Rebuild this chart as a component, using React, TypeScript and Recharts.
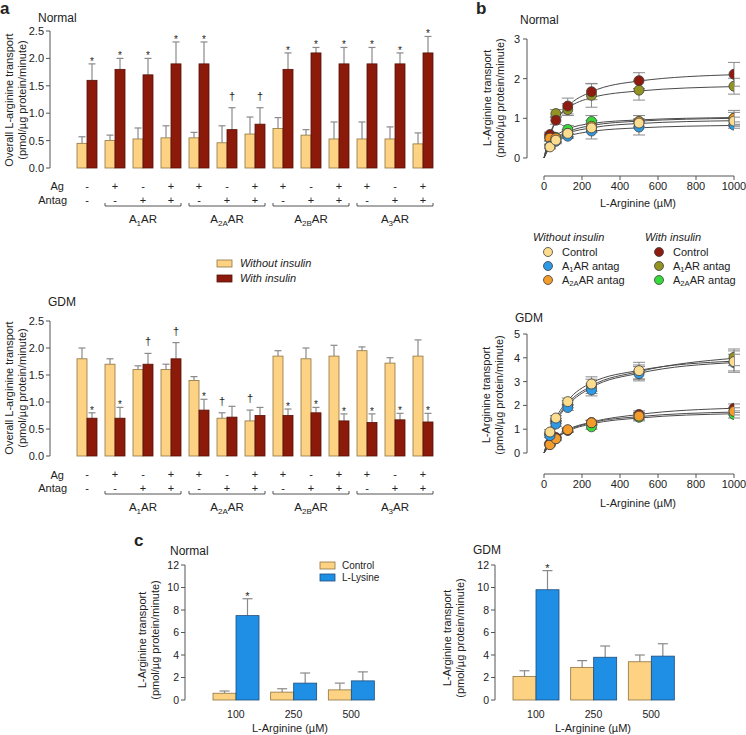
import React from "react";
import {
  BarChart,
  Bar,
  XAxis,
  YAxis,
  ComposedChart,
  Line,
  Scatter,
  ErrorBar,
  ReferenceLine,
} from "recharts";

const FONT = '"Liberation Sans", Arial, Helvetica, sans-serif';

// ---- panel a: agonist / antagonist conditions ----
const AG = ["-", "+", "-", "+", "+", "-", "+", "+", "-", "+", "+", "-", "+"];
const ANTAG = ["-", "-", "+", "+", "-", "+", "+", "-", "+", "+", "-", "+", "+"];
const RECEPTOR_SUBS = ["1", "2A", "2B", "3"];
const A_TICKS = [0, 0.5, 1, 1.5, 2, 2.5];

const normWithout = [0.45, 0.5, 0.53, 0.55, 0.55, 0.46, 0.62, 0.72, 0.6, 0.53, 0.53, 0.53, 0.44];
const normWithoutSe = [0.12, 0.1, 0.2, 0.22, 0.1, 0.31, 0.31, 0.2, 0.1, 0.31, 0.31, 0.22, 0.2];
const normWith = [1.6, 1.8, 1.7, 1.9, 1.9, 0.7, 0.8, 1.8, 2.1, 1.9, 1.9, 1.9, 2.1];
const normWithSe = [0.3, 0.2, 0.3, 0.4, 0.4, 0.4, 0.3, 0.3, 0.1, 0.3, 0.3, 0.2, 0.3];
const normWithoutMark = ["", "", "", "", "", "", "", "", "", "", "", "", ""];
const normWithMark = ["*", "*", "*", "*", "*", "†", "†", "*", "*", "*", "*", "*", "*"];

const gdmWithout = [1.8, 1.7, 1.6, 1.6, 1.4, 0.7, 0.65, 1.85, 1.8, 1.85, 1.95, 1.72, 1.85];
const gdmWithoutSe = [0.2, 0.1, 0.07, 0.1, 0.07, 0.1, 0.2, 0.1, 0.2, 0.2, 0.07, 0.1, 0.3];
const gdmWith = [0.7, 0.7, 1.7, 1.8, 0.85, 0.72, 0.75, 0.75, 0.8, 0.65, 0.62, 0.67, 0.63];
const gdmWithSe = [0.1, 0.2, 0.2, 0.3, 0.2, 0.2, 0.15, 0.12, 0.1, 0.13, 0.16, 0.12, 0.16];
const gdmWithoutMark = ["", "", "", "", "", "†", "†", "", "", "", "", "", ""];
const gdmWithMark = ["*", "*", "†", "†", "*", "", "", "*", "*", "*", "*", "*", "*"];

// ---- panel b: kinetics ----
const CONC = [31.25, 62.5, 125, 250, 500, 1000];
const FIT_CONC = [0, 31.25, 62.5, 125, 250, 500, 1000];
const B_X_TICKS = [0, 200, 400, 600, 800, 1000];

const nCtrl = [0.28, 0.45, 0.62, 0.76, 0.88, 0.93];
const nCtrlSe = [0.05, 0.06, 0.08, 0.1, 0.1, 0.1];
const nA1 = [0.3, 0.42, 0.55, 0.68, 0.78, 0.83];
const nA1Se = [0.05, 0.06, 0.06, 0.2, 0.2, 0.08];
const nA2A = [0.5, 0.5, 0.62, 0.8, 0.92, 1.0];
const nA2ASe = [0.08, 0.08, 0.1, 0.15, 0.15, 0.2];
const nInsCtrl = [0.59, 0.95, 1.31, 1.67, 1.95, 2.11];
const nInsCtrlSe = [0.06, 0.1, 0.2, 0.2, 0.2, 0.3];
const nInsA1 = [0.55, 1.12, 1.22, 1.58, 1.71, 1.81];
const nInsA1Se = [0.06, 0.1, 0.15, 0.3, 0.25, 0.2];
const nInsA2A = [0.5, 0.52, 0.72, 0.92, 0.92, 1.0];
const nInsA2ASe = [0.06, 0.06, 0.1, 0.15, 0.15, 0.15];

const nCtrlFit = [0, 0.3, 0.46, 0.62, 0.76, 0.87, 0.94];
const nA1Fit = [0, 0.28, 0.42, 0.55, 0.67, 0.76, 0.82];
const nA2AFit = [0, 0.36, 0.5, 0.66, 0.82, 0.93, 1.0];
const nInsCtrlFit = [0, 0.56, 0.92, 1.3, 1.67, 1.94, 2.1];
const nInsA1Fit = [0, 0.6, 0.95, 1.25, 1.52, 1.69, 1.8];
const nInsA2AFit = [0, 0.4, 0.56, 0.73, 0.87, 0.96, 1.02];

const gCtrl = [0.88, 1.47, 2.16, 2.9, 3.46, 3.84];
const gCtrlSe = [0.1, 0.1, 0.15, 0.3, 0.35, 0.45];
const gA1 = [0.73, 1.22, 1.91, 2.65, 3.33, 3.8];
const gA1Se = [0.08, 0.1, 0.12, 0.25, 0.3, 0.35];
const gA2A = [0.35, 0.6, 0.98, 1.27, 1.55, 1.75];
const gA2ASe = [0.05, 0.06, 0.08, 0.1, 0.15, 0.15];
const gInsCtrl = [0.4, 0.65, 0.96, 1.28, 1.62, 1.88];
const gInsCtrlSe = [0.05, 0.06, 0.08, 0.1, 0.15, 0.18];
const gInsA1 = [0.8, 1.35, 2.05, 2.8, 3.4, 4.02];
const gInsA1Se = [0.08, 0.1, 0.15, 0.3, 0.3, 0.35];
const gInsA2A = [0.36, 0.6, 0.95, 1.1, 1.5, 1.62];
const gInsA2ASe = [0.05, 0.06, 0.08, 0.1, 0.15, 0.15];

const gCtrlFit = [0, 0.82, 1.45, 2.2, 2.95, 3.47, 3.86];
const gA1Fit = [0, 0.72, 1.3, 2.0, 2.75, 3.35, 3.8];
const gA2AFit = [0, 0.36, 0.62, 0.95, 1.27, 1.53, 1.72];
const gInsCtrlFit = [0, 0.38, 0.65, 0.98, 1.3, 1.62, 1.88];
const gInsA1Fit = [0, 0.76, 1.36, 2.08, 2.82, 3.42, 3.98];
const gInsA2AFit = [0, 0.35, 0.6, 0.92, 1.22, 1.47, 1.65];

// ---- panel c: L-lysine ----
const C_CATS = ["100", "250", "500"];
const C_TICKS = [0, 2, 4, 6, 8, 10, 12];
const cNormCtrl = [0.6, 0.7, 0.9];
const cNormCtrlSe = [0.2, 0.3, 0.6];
const cNormLys = [7.5, 1.5, 1.7];
const cNormLysSe = [1.5, 0.9, 0.8];
const cNormMark = ["*", "", ""];
const cGdmCtrl = [2.1, 2.9, 3.4];
const cGdmCtrlSe = [0.5, 0.6, 0.6];
const cGdmLys = [9.8, 3.8, 3.9];
const cGdmLysSe = [1.7, 1.0, 1.1];
const cGdmMark = ["*", "", ""];

const LIGHT = "#fdd282";
const LIGHT_EDGE = "#8d7443";
const DARK = "#8c1a0b";
const DARK_EDGE = "#561006";
const BLUE = "#1f8fe5";
const BLUE_EDGE = "#1d4d7c";
const AXIS = "#555";
const ERR = "#8a8a8a";

const C_CTRL_W = "#fcdc8e";
const C_A1_W = "#2e9ae6";
const C_A2A_W = "#f39c2b";
const C_CTRL_I = "#8e1b10";
const C_A1_I = "#939322";
const C_A2A_I = "#39d83a";

function barWithError(valKey: string, seKey: string, markKey: string, edge: string, cap: number, markSize: number) {
  return (p: any) => {
    const { x, y, width, height, payload, fill } = p;
    const v = payload[valKey];
    const se = payload[seKey];
    const mark = payload[markKey];
    const cx = x + width / 2;
    const perUnit = v > 0 ? height / v : 0;
    const top = y - se * perUnit;
    return (
      <g>
        <line x1={cx} x2={cx} y1={y} y2={top} stroke={ERR} strokeWidth={1.2} />
        <line x1={cx - cap} x2={cx + cap} y1={top} y2={top} stroke={ERR} strokeWidth={1.2} />
        <rect x={x} y={y} width={width} height={height} fill={fill} stroke={edge} strokeWidth={0.8} />
        {mark ? (
          <text
            x={cx}
            y={mark === "*" ? top + 1 : top - 8}
            textAnchor="middle"
            fontSize={mark === "*" ? markSize : markSize + 1}
            fill="#222"
            fontFamily={FONT}
          >
            {mark}
          </text>
        ) : null}
      </g>
    );
  };
}

function receptor(sub: string, fs: number, tail = "AR") {
  return [
    "A",
    <tspan key="s" fontSize={fs * 0.7} dy={fs * 0.3}>
      {sub}
    </tspan>,
    <tspan key="t" dy={-fs * 0.3}>
      {tail}
    </tspan>,
  ];
}

function ConditionTick(p: any) {
  const { x, y, index } = p;
  const mid = index >= 2 && (index - 2) % 3 === 0;
  const g = (index - 2) / 3;
  return (
    <g fontFamily={FONT} fill="#222">
      <text x={x} y={y + 18} textAnchor="middle" dominantBaseline="central" fontSize={11}>
        {AG[index]}
      </text>
      <text x={x} y={y + 32} textAnchor="middle" dominantBaseline="central" fontSize={11}>
        {ANTAG[index]}
      </text>
      {mid ? (
        <path d={`M${x - 38},${y + 35} V${y + 38} H${x + 38} V${y + 35}`} fill="none" stroke={AXIS} strokeWidth={1} />
      ) : null}
      {mid ? (
        <text x={x} y={y + 55} textAnchor="middle" fontSize={11.5}>
          {receptor(RECEPTOR_SUBS[g], 11.5)}
        </text>
      ) : null}
    </g>
  );
}

function buildRows(wo: number[], woSe: number[], wi: number[], wiSe: number[], woMark: string[], wiMark: string[]) {
  return wo.map((v, i) => ({
    id: `c${i}`,
    wo: v,
    woSe: woSe[i],
    woMark: woMark[i],
    wi: wi[i],
    wiSe: wiSe[i],
    wiMark: wiMark[i],
  }));
}

const normalRows = buildRows(normWithout, normWithoutSe, normWith, normWithSe, normWithoutMark, normWithMark);
const gdmRows = buildRows(gdmWithout, gdmWithoutSe, gdmWith, gdmWithSe, gdmWithoutMark, gdmWithMark);

function TransportBars({ rows, height, top, xh }: { rows: any[]; height: number; top: number; xh: number }) {
  return (
    <BarChart width={445} height={height} data={rows} margin={{ top, right: 8, left: 0, bottom: 0 }} barGap={0} barSize={10}>
      <XAxis
        dataKey="id"
        axisLine={false}
        tickLine={false}
        tickSize={0}
        tickMargin={0}
        interval={0}
        height={xh}
        padding={{ left: 23, right: 0 }}
        tick={(p: any) => <ConditionTick {...p} />}
      />
      <YAxis
        width={50}
        domain={[0, 2.5]}
        ticks={A_TICKS}
        interval={0}
        tickFormatter={(v: number) => v.toFixed(1)}
        axisLine={{ stroke: AXIS }}
        tickLine={{ stroke: AXIS }}
        tickSize={4}
        tickMargin={2}
        tick={{ fill: "#222", fontSize: 11, fontFamily: FONT }}
      />
      <Bar dataKey="wo" fill={LIGHT} isAnimationActive={false} shape={barWithError("wo", "woSe", "woMark", LIGHT_EDGE, 3.5, 10)} />
      <Bar dataKey="wi" fill={DARK} isAnimationActive={false} shape={barWithError("wi", "wiSe", "wiMark", DARK_EDGE, 3.5, 10)} />
    </BarChart>
  );
}

function series(pts: number[], se: number[]) {
  return pts.map((y, i) => ({ x: CONC[i], y, e: se[i] }));
}
function fit(vals: number[]) {
  return vals.map((y, i) => ({ x: FIT_CONC[i], y }));
}

const dot = (color: string) => (p: any) =>
  <circle cx={p.cx} cy={p.cy} r={5} fill={color} stroke="#3d3d3d" strokeWidth={0.8} />;

type Kin = { color: string; pts: number[]; se: number[]; fit: number[] };

const normalKinetics: Kin[] = [
  { color: C_A2A_I, pts: nInsA2A, se: nInsA2ASe, fit: nInsA2AFit },
  { color: C_A1_I, pts: nInsA1, se: nInsA1Se, fit: nInsA1Fit },
  { color: C_CTRL_I, pts: nInsCtrl, se: nInsCtrlSe, fit: nInsCtrlFit },
  { color: C_A2A_W, pts: nA2A, se: nA2ASe, fit: nA2AFit },
  { color: C_A1_W, pts: nA1, se: nA1Se, fit: nA1Fit },
  { color: C_CTRL_W, pts: nCtrl, se: nCtrlSe, fit: nCtrlFit },
];

const gdmKinetics: Kin[] = [
  { color: C_A2A_I, pts: gInsA2A, se: gInsA2ASe, fit: gInsA2AFit },
  { color: C_CTRL_I, pts: gInsCtrl, se: gInsCtrlSe, fit: gInsCtrlFit },
  { color: C_A2A_W, pts: gA2A, se: gA2ASe, fit: gA2AFit },
  { color: C_A1_I, pts: gInsA1, se: gInsA1Se, fit: gInsA1Fit },
  { color: C_A1_W, pts: gA1, se: gA1Se, fit: gA1Fit },
  { color: C_CTRL_W, pts: gCtrl, se: gCtrlSe, fit: gCtrlFit },
];

function KineticsChart({ sets, height, top, xh, yMin, yMax, yTicks }: {
  sets: Kin[]; height: number; top: number; xh: number; yMin: number; yMax: number; yTicks: number[];
}) {
  const xMin = -89.5;
  return (
    <ComposedChart width={276} height={height} margin={{ top, right: 12, left: 0, bottom: 0 }}>
      <XAxis
        type="number"
        dataKey="x"
        domain={[xMin, 1000]}
        allowDataOverflow
        ticks={B_X_TICKS}
        interval={0}
        height={xh}
        axisLine={false}
        tickLine={{ stroke: AXIS }}
        tickSize={4}
        tickMargin={2}
        tick={{ fill: "#222", fontSize: 11, fontFamily: FONT }}
      />
      <YAxis
        type="number"
        width={57}
        domain={[yMin, yMax]}
        allowDataOverflow
        ticks={yTicks}
        interval={0}
        axisLine={false}
        tickLine={{ stroke: AXIS }}
        tickSize={4}
        tickMargin={3}
        tick={{ fill: "#222", fontSize: 11, fontFamily: FONT }}
      />
      <ReferenceLine segment={[{ x: xMin, y: 0 }, { x: xMin, y: yMax }]} stroke={AXIS} strokeWidth={1} />
      <ReferenceLine segment={[{ x: 0, y: yMin }, { x: 1000, y: yMin }]} stroke={AXIS} strokeWidth={1} />
      {sets.map((s, i) => (
        <Line
          key={`l${i}`}
          data={fit(s.fit)}
          dataKey="y"
          type="monotone"
          stroke="#4a4a4a"
          strokeWidth={1}
          dot={false}
          activeDot={false}
          isAnimationActive={false}
        />
      ))}
      {sets.map((s, i) => (
        <Scatter key={`s${i}`} data={series(s.pts, s.se)} dataKey="y" fill={s.color} shape={dot(s.color)} isAnimationActive={false}>
          <ErrorBar dataKey="e" direction="y" width={6} stroke={ERR} strokeWidth={1} isAnimationActive={false} />
        </Scatter>
      ))}
    </ComposedChart>
  );
}

function lysineRows(ctrl: number[], ctrlSe: number[], lys: number[], lysSe: number[], mark: string[]) {
  return C_CATS.map((c, i) => ({
    cat: c,
    ctrl: ctrl[i],
    ctrlSe: ctrlSe[i],
    ctrlMark: "",
    lys: lys[i],
    lysSe: lysSe[i],
    lysMark: mark[i],
  }));
}

function LysineBars({ rows, width, padLeft }: { rows: any[]; width: number; padLeft: number }) {
  return (
    <BarChart width={width} height={185} data={rows} margin={{ top: 15, right: 0, left: 0, bottom: 0 }} barGap={0} barSize={23}>
      <XAxis
        dataKey="cat"
        axisLine={false}
        tickLine={false}
        tickSize={0}
        tickMargin={11}
        interval={0}
        height={35}
        padding={{ left: padLeft, right: 0 }}
        tick={{ fill: "#222", fontSize: 10.5, fontFamily: FONT }}
      />
      <YAxis
        width={55}
        domain={[0, 12]}
        ticks={C_TICKS}
        interval={0}
        axisLine={{ stroke: AXIS }}
        tickLine={{ stroke: AXIS }}
        tickSize={4}
        tickMargin={2}
        tick={{ fill: "#222", fontSize: 10.5, fontFamily: FONT }}
      />
      <Bar dataKey="ctrl" fill={LIGHT} isAnimationActive={false} shape={barWithError("ctrl", "ctrlSe", "ctrlMark", LIGHT_EDGE, 5, 11)} />
      <Bar dataKey="lys" fill={BLUE} isAnimationActive={false} shape={barWithError("lys", "lysSe", "lysMark", BLUE_EDGE, 5, 11)} />
    </BarChart>
  );
}

function VLabel({ x1, x2, cy, l1, l2, fs = 11 }: { x1: number; x2: number; cy: number; l1: string; l2: string; fs?: number }) {
  return (
    <g>
      <text transform={`translate(${x1},${cy}) rotate(-90)`} textAnchor="middle" dominantBaseline="central" fontSize={fs}>
        {l1}
      </text>
      <text transform={`translate(${x2},${cy}) rotate(-90)`} textAnchor="middle" dominantBaseline="central" fontSize={fs}>
        {l2}
      </text>
    </g>
  );
}

const KIN_LEGEND_WO = [
  { color: C_CTRL_W, sub: "", text: "Control" },
  { color: C_A1_W, sub: "1", text: "AR antag" },
  { color: C_A2A_W, sub: "2A", text: "AR antag" },
];
const KIN_LEGEND_WI = [
  { color: C_CTRL_I, sub: "", text: "Control" },
  { color: C_A1_I, sub: "1", text: "AR antag" },
  { color: C_A2A_I, sub: "2A", text: "AR antag" },
];
const LEGEND_ROWS = [252, 266, 280];

function Overlay() {
  const unit = "(pmol/µg protein/minute)";
  return (
    <svg width={746} height={735} style={{ position: "absolute", left: 0, top: 0, pointerEvents: "none" }} fontFamily={FONT} fill="#222">
      {/* panel letters */}
      <text x={0} y={14} fontSize={17} fontWeight="bold">a</text>
      <text x={476} y={14} fontSize={17} fontWeight="bold">b</text>
      <text x={134} y={546} fontSize={17} fontWeight="bold">c</text>

      {/* panel a */}
      <text x={38} y={18} fontSize={12} dominantBaseline="central">Normal</text>
      <text x={48} y={302} fontSize={12} dominantBaseline="central">GDM</text>
      <VLabel x1={9} x2={22} cy={100} l1="Overall L-arginine transport" l2={unit} />
      <VLabel x1={9} x2={22} cy={388} l1="Overall L-arginine transport" l2={unit} />
      <text x={64} y={186} fontSize={11} textAnchor="end" dominantBaseline="central">Ag</text>
      <text x={67} y={200} fontSize={11} textAnchor="end" dominantBaseline="central">Antag</text>
      <text x={64} y={475} fontSize={11} textAnchor="end" dominantBaseline="central">Ag</text>
      <text x={67} y={488} fontSize={11} textAnchor="end" dominantBaseline="central">Antag</text>
      <rect x={217} y={260} width={15} height={7} fill={LIGHT} stroke={LIGHT_EDGE} strokeWidth={0.8} />
      <rect x={217} y={275} width={15} height={7} fill={DARK} stroke={DARK_EDGE} strokeWidth={0.8} />
      <text x={240} y={263} fontSize={11} fontStyle="italic" dominantBaseline="central">Without insulin</text>
      <text x={240} y={278} fontSize={11} fontStyle="italic" dominantBaseline="central">With insulin</text>

      {/* panel b */}
      <text x={520} y={20} fontSize={12} dominantBaseline="central">Normal</text>
      <text x={515} y={318} fontSize={12} dominantBaseline="central">GDM</text>
      <VLabel x1={487} x2={500} cy={98} l1="L-Arginine transport" l2={unit} />
      <VLabel x1={486} x2={499} cy={395} l1="L-Arginine transport" l2={unit} />
      <text x={638} y={203} fontSize={11} textAnchor="middle" dominantBaseline="central">L-Arginine (µM)</text>
      <text x={638} y={503} fontSize={11} textAnchor="middle" dominantBaseline="central">L-Arginine (µM)</text>
      <text x={533} y={237} fontSize={11} fontStyle="italic" dominantBaseline="central">Without insulin</text>
      <text x={645} y={237} fontSize={11} fontStyle="italic" dominantBaseline="central">With insulin</text>
      {KIN_LEGEND_WO.map((it, i) => (
        <g key={`wo${i}`}>
          <circle cx={548} cy={LEGEND_ROWS[i]} r={4.5} fill={it.color} stroke="#3d3d3d" strokeWidth={0.8} />
          <text x={562} y={LEGEND_ROWS[i]} fontSize={11} dominantBaseline="central">
            {it.sub ? receptor(it.sub, 11, it.text) : it.text}
          </text>
        </g>
      ))}
      {KIN_LEGEND_WI.map((it, i) => (
        <g key={`wi${i}`}>
          <circle cx={659} cy={LEGEND_ROWS[i]} r={4.5} fill={it.color} stroke="#3d3d3d" strokeWidth={0.8} />
          <text x={673} y={LEGEND_ROWS[i]} fontSize={11} dominantBaseline="central">
            {it.sub ? receptor(it.sub, 11, it.text) : it.text}
          </text>
        </g>
      ))}

      {/* panel c */}
      <text x={170} y={551} fontSize={12} dominantBaseline="central">Normal</text>
      <text x={473} y={550} fontSize={12} dominantBaseline="central">GDM</text>
      <VLabel x1={142} x2={155} cy={640} l1="L-Arginine transport" l2={unit} />
      <VLabel x1={447} x2={460} cy={638} l1="L-Arginine transport" l2={unit} />
      <text x={290} y={728} fontSize={11} textAnchor="middle" dominantBaseline="central">L-Arginine (µM)</text>
      <text x={593} y={728} fontSize={11} textAnchor="middle" dominantBaseline="central">L-Arginine (µM)</text>
      <rect x={320} y={562} width={15} height={7} fill={LIGHT} stroke={LIGHT_EDGE} strokeWidth={0.8} />
      <rect x={320} y={574} width={15} height={7} fill={BLUE} stroke={BLUE_EDGE} strokeWidth={0.8} />
      <text x={342} y={565} fontSize={10} dominantBaseline="central">Control</text>
      <text x={342} y={577} fontSize={10} dominantBaseline="central">L-Lysine</text>
    </svg>
  );
}

export default function App() {
  return (
    <div style={{ position: "absolute", left: 0, top: 0, width: 746, height: 735, background: "#fff", overflow: "hidden", fontFamily: FONT }}>
      <div style={{ position: "absolute", left: 0, top: 0 }}>
        <TransportBars rows={normalRows} height={235} top={31} xh={67} />
      </div>
      <div style={{ position: "absolute", left: 0, top: 295 }}>
        <TransportBars rows={gdmRows} height={230} top={26} xh={69} />
      </div>
      <div style={{ position: "absolute", left: 470, top: 0 }}>
        <KineticsChart sets={normalKinetics} height={215} top={39} xh={39} yMin={-0.454} yMax={3} yTicks={[0, 1, 2, 3]} />
      </div>
      <div style={{ position: "absolute", left: 470, top: 310 }}>
        <KineticsChart sets={gdmKinetics} height={200} top={24} xh={36} yMin={-0.882} yMax={5} yTicks={[0, 1, 2, 3, 4, 5]} />
      </div>
      <div style={{ position: "absolute", left: 130, top: 550 }}>
        <LysineBars rows={lysineRows(cNormCtrl, cNormCtrlSe, cNormLys, cNormLysSe, cNormMark)} width={250} padLeft={22} />
      </div>
      <div style={{ position: "absolute", left: 440, top: 550 }}>
        <LysineBars rows={lysineRows(cGdmCtrl, cGdmCtrlSe, cGdmLys, cGdmLysSe, cGdmMark)} width={240} padLeft={12} />
      </div>
      <Overlay />
    </div>
  );
}
